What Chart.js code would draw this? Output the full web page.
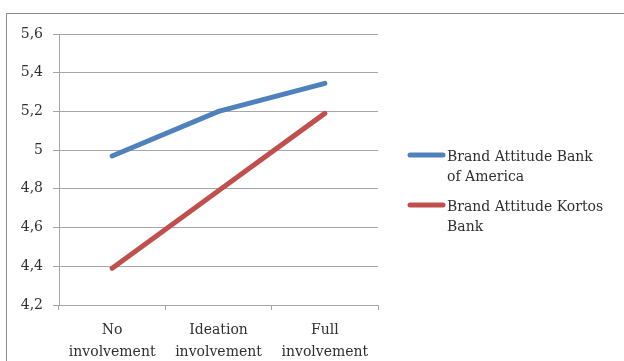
<!DOCTYPE html>
<html>
<head>
<meta charset="utf-8">
<script src="https://cdn.jsdelivr.net/npm/chart.js@4/dist/chart.umd.min.js"></script>
<style>
  html, body { margin: 0; padding: 0; background: #fff; }
  #wrap { width: 624px; height: 361px; }
</style>
</head>
<body>
<div id="wrap"><canvas id="attitudeChart" width="624" height="361"></canvas></div>
<script>
const categories = [['No', 'involvement'], ['Ideation', 'involvement'], ['Full', 'involvement']];
const bankOfAmerica = [4.97, 5.2, 5.345];
const kortosBank = [4.39, 4.79, 5.19];
const seriesLabels = [['Brand Attitude Bank', 'of America'], ['Brand Attitude Kortos', 'Bank']];

const FONT = '"DejaVu Serif", serif';
const TEXT_COLOR = '#303030';

// frame round the whole chart + legend on the right (wraps like the original)
const framePlugin = {
    id: 'frame',
    beforeDraw(chart) {
        const c = chart.ctx;
        c.save();
        c.strokeStyle = '#8c8c8c';
        c.lineWidth = 1;
        c.strokeRect(6.5, 13.5, 700, 400);
        c.restore();
    },
    afterDraw(chart) {
        const c = chart.ctx;
        c.save();
        c.font = '14px ' + FONT;
        c.fillStyle = TEXT_COLOR;
        c.textBaseline = 'middle';
        const tops = [155, 205];
        chart.data.datasets.forEach((ds, i) => {
            const y = tops[i];
            c.strokeStyle = ds.borderColor;
            c.lineWidth = 5;
            c.lineCap = 'round';
            c.beginPath();
            c.moveTo(410, y);
            c.lineTo(443, y);
            c.stroke();
            ds.label.forEach((line, j) => {
                c.fillText(line, 447, y + 2 + j * 20);
            });
        });
        c.restore();
    }
};

const ctx = document.getElementById('attitudeChart').getContext('2d');
new Chart(ctx, {
    type: 'line',
    data: {
        labels: categories,
        datasets: [{
            label: seriesLabels[0],
            data: bankOfAmerica,
            borderColor: '#4f81bd',
            borderWidth: 5,
            borderCapStyle: 'round',
            pointRadius: 0,
            tension: 0
        }, {
            label: seriesLabels[1],
            data: kortosBank,
            borderColor: '#c0504d',
            borderWidth: 5,
            borderCapStyle: 'round',
            pointRadius: 0,
            tension: 0
        }]
    },
    options: {
        responsive: false,
        animation: false,
        layout: { padding: { left: 0, top: 34, right: 246, bottom: 0 } },
        plugins: {
            legend: { display: false },
            tooltip: { enabled: false }
        },
        scales: {
            y: {
                min: 4.2,
                max: 5.6,
                afterFit: function (scale) { scale.width = 59; },
                ticks: {
                    stepSize: 0.2,
                    padding: 10,
                    color: TEXT_COLOR,
                    font: { family: FONT, size: 14 },
                    callback: function (value) {
                        return Number(value.toFixed(1)).toString().replace('.', ',');
                    }
                },
                grid: { color: '#a6a6a6', tickLength: 6 },
                border: { color: '#a6a6a6' }
            },
            x: {
                offset: true,
                afterFit: function (scale) { scale.height = 56; },
                ticks: {
                    padding: 10,
                    color: TEXT_COLOR,
                    font: { family: FONT, size: 14, lineHeight: 1.55 },
                    maxRotation: 0
                },
                grid: { offset: true, drawOnChartArea: false, color: '#a6a6a6', tickLength: 5 },
                border: { color: '#a6a6a6' }
            }
        }
    },
    plugins: [framePlugin]
});
</script>
</body>
</html>
